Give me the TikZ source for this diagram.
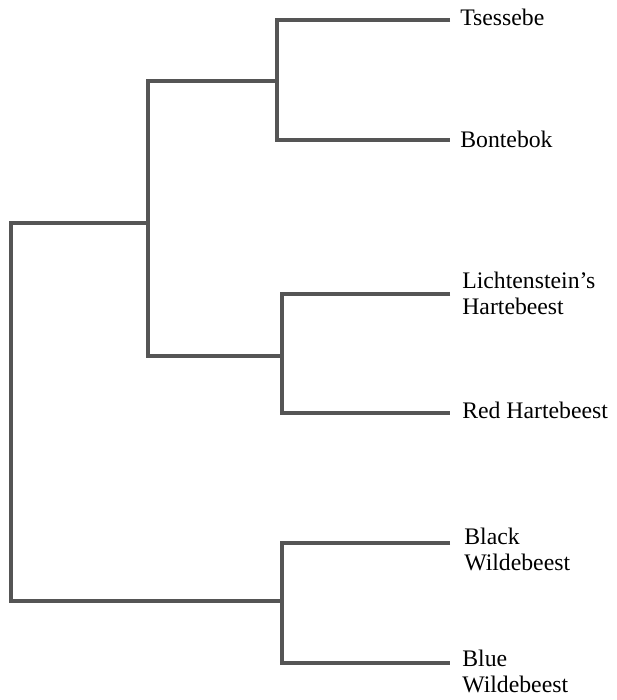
\documentclass[tikz,border=0pt]{standalone}
\usepackage{fontspec}
\setmainfont{Liberation Serif}
\usepackage{tikz}
\usetikzlibrary{positioning}
\definecolor{TreeGray}{HTML}{555555}

\begin{document}
\begin{tikzpicture}[x=0.02cm, y=-0.02cm,
    branch/.style={draw=TreeGray, line width=2pt, line join=miter},
    leaf/.style={anchor=base west, inner sep=0pt, align=left,
                 font=\fontsize{13.5}{14.7}\selectfont}]
  \useasboundingbox (0,0) rectangle (616,700);

  %% Internal nodes
  \coordinate (root)  at (11,412);
  \coordinate (alce)  at (148,223);
  \coordinate (damal) at (277,81);
  \coordinate (harte) at (282,356);
  \coordinate (conno) at (282,601);

  %% Leaf ends
  \coordinate (tsE) at (450,20);
  \coordinate (boE) at (450,140);
  \coordinate (lhE) at (450,294);
  \coordinate (rhE) at (450,413);
  \coordinate (bkE) at (450,543);
  \coordinate (blE) at (450,663);

  %% Labels (base = last line)
  \node[leaf] (ts) at (460,25)  {Tsessebe};
  \node[leaf] (bo) at (460,147) {Bontebok};
  \node[leaf] (lh) at (462,314) {Lichtenstein's\\Hartebeest};
  \node[leaf] (rh) at (462,418) {Red Hartebeest};
  \node[leaf] (bk) at (464,570) {Black\\Wildebeest};
  \node[leaf] (bl) at (462,692) {Blue\\Wildebeest};

  %% Branches
  \draw[branch] (alce) -| (root) |- (conno);
  \draw[branch] (damal) -| (alce) |- (harte);
  \draw[branch] (tsE) -| (damal) |- (boE);
  \draw[branch] (lhE) -| (harte) |- (rhE);
  \draw[branch] (bkE) -| (conno) |- (blE);
\end{tikzpicture}
\end{document}
